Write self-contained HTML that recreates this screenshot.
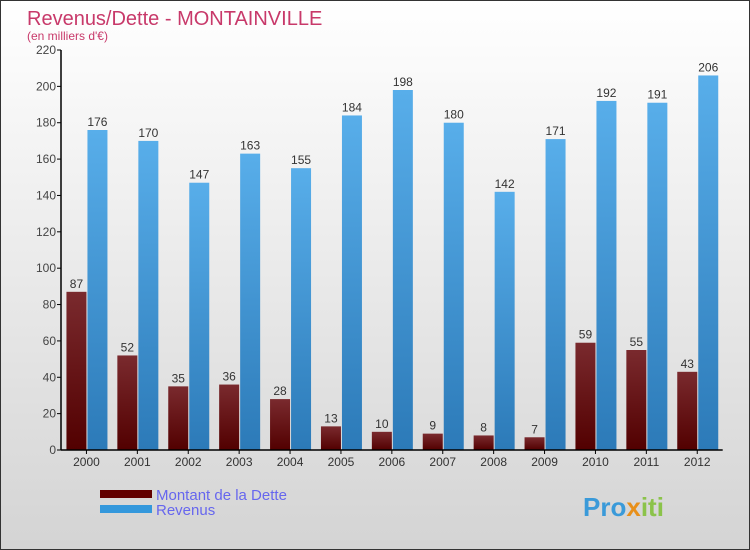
<!DOCTYPE html>
<html><head><meta charset="utf-8"><style>
body{margin:0}
#c{position:relative;width:748px;height:548px;border:1px solid #333;background:linear-gradient(#ffffff,#d4d4d4);font-family:"Liberation Sans",sans-serif;overflow:hidden}
</style></head><body>
<div id="c">
<svg id="s" width="748" height="548">
<defs>
<linearGradient id="gd" x1="0" y1="0" x2="0" y2="1"><stop offset="0" stop-color="#7a2a2e"/><stop offset="1" stop-color="#520000"/></linearGradient>
<linearGradient id="gr" x1="0" y1="0" x2="0" y2="1"><stop offset="0" stop-color="#58aeea"/><stop offset="1" stop-color="#2c7ab8"/></linearGradient>
</defs>
<text x="26" y="24" font-size="20" fill="#c8396a">Revenus/Dette - MONTAINVILLE</text>
<text x="26" y="39" font-size="12" fill="#c8396a">(en milliers d'€)</text>
<g id="g"></g>
<rect x="99" y="489" width="52" height="8" fill="#620000"/>
<rect x="99" y="504" width="52" height="8" fill="#3498dc"/>
<text x="155" y="499" font-size="15" fill="#6666ee">Montant de la Dette</text>
<text x="155" y="514" font-size="15" fill="#6666ee">Revenus</text>
<text x="582" y="515" font-size="26" font-weight="bold" fill="#3a9ad9">Pro<tspan fill="#e8901a">x</tspan><tspan fill="#8bc34a">iti</tspan></text>
</svg>
</div>
<script>
const years=["2000","2001","2002","2003","2004","2005","2006","2007","2008","2009","2010","2011","2012"];
const dette=[87,52,35,36,28,13,10,9,8,7,59,55,43];
const revenus=[176,170,147,163,155,184,198,180,142,171,192,191,206];
const ticks=[0,20,40,60,80,100,120,140,160,180,200,220];
const NS="http://www.w3.org/2000/svg";
const g=document.getElementById('g');
const x0=60,y0=449,yTop=49,maxV=220,gw=50.9;
const y=v=>y0-(y0-yTop)*v/maxV;
function el(t,a){const e=document.createElementNS(NS,t);for(const k in a)e.setAttribute(k,a[k]);g.appendChild(e);return e;}
ticks.forEach(t=>{
 const l=el('line',{x1:x0-4,x2:x0,y1:y(t),y2:y(t),stroke:'#000'});
 
 
 const tx=el('text',{x:x0-5,y:y(t)+4,'font-size':12,'text-anchor':'end',fill:'#444'});
 tx.textContent=t;
 
 
});
years.forEach((yr,i)=>{
 const gx=x0+i*gw;
 const c=gx+gw/2;
 const b1=el('rect',{x:c-20,y:y(dette[i]),width:20,height:y0-y(dette[i]),fill:'url(#gd)'});
 
 
 const b2=el('rect',{x:c+1,y:y(revenus[i]),width:20,height:y0-y(revenus[i]),fill:'url(#gr)'});
 
 
 const t1=el('text',{x:c-10,y:y(dette[i])-4,'font-size':12,'text-anchor':'middle',fill:'#333'});
 t1.textContent=dette[i];
 
 
 const t2=el('text',{x:c+11,y:y(revenus[i])-4,'font-size':12,'text-anchor':'middle',fill:'#333'});
 t2.textContent=revenus[i];
 
 
 const tk=el('line',{x1:c,x2:c,y1:y0,y2:y0+4,stroke:'#000'});
 
 
 const xl=el('text',{x:c,y:y0+16,'font-size':12,'text-anchor':'middle',fill:'#333'});
 xl.textContent=yr;
 
 
});
const ax=el('line',{x1:x0,x2:x0,y1:yTop,y2:y0,stroke:'#000','stroke-width':1.5});


const xa=el('line',{x1:x0,x2:x0+13*gw,y1:y0,y2:y0,stroke:'#000','stroke-width':1.5});


</script>
</body></html>
